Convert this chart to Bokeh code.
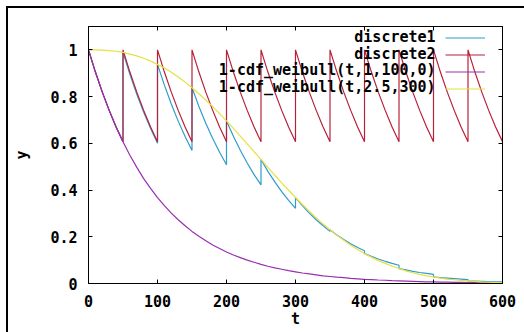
from bokeh.plotting import figure
from bokeh.models import (Range1d, LinearAxis, FixedTicker, Legend, LegendItem, Label,
                          InlineStyleSheet)
from bokeh.embed import file_html
from bokeh.resources import INLINE

# ---------------- data ----------------
seg_starts = [0, 50, 100, 150, 200, 250, 300, 350, 400, 450, 500, 550]
seg_offsets = [0, 10, 20, 30, 40, 50]

discrete1_segments = [
    [1.000, 0.905, 0.819, 0.741, 0.670, 0.607],
    [0.989, 0.895, 0.810, 0.733, 0.663, 0.600],
    [0.938, 0.849, 0.768, 0.695, 0.629, 0.569],
    [0.838, 0.758, 0.686, 0.621, 0.562, 0.508],
    [0.696, 0.630, 0.570, 0.516, 0.466, 0.422],
    [0.531, 0.480, 0.435, 0.393, 0.356, 0.322],
    [0.368, 0.333, 0.301, 0.273, 0.247, 0.223],
    [0.230, 0.208, 0.188, 0.170, 0.154, 0.140],
    [0.128, 0.116, 0.105, 0.095, 0.086, 0.078],
    [0.064, 0.058, 0.052, 0.047, 0.043, 0.039],
    [0.028, 0.025, 0.023, 0.021, 0.019, 0.017],
    [0.011, 0.010, 0.009, 0.008, 0.007, 0.007],
]

discrete2_segments = [
    [1.000, 0.905, 0.819, 0.741, 0.670, 0.607],
    [1.000, 0.905, 0.819, 0.741, 0.670, 0.607],
    [1.000, 0.905, 0.819, 0.741, 0.670, 0.607],
    [1.000, 0.905, 0.819, 0.741, 0.670, 0.607],
    [1.000, 0.905, 0.819, 0.741, 0.670, 0.607],
    [1.000, 0.905, 0.819, 0.741, 0.670, 0.607],
    [1.000, 0.905, 0.819, 0.741, 0.670, 0.607],
    [1.000, 0.905, 0.819, 0.741, 0.670, 0.607],
    [1.000, 0.905, 0.819, 0.741, 0.670, 0.607],
    [1.000, 0.905, 0.819, 0.741, 0.670, 0.607],
    [1.000, 0.905, 0.819, 0.741, 0.670, 0.607],
    [1.000, 0.905, 0.819, 0.741, 0.670, 0.607],
]
discrete2_tail_t = [600]
discrete2_tail_y = [0.80]

curve_t = [0, 10, 20, 30, 40, 50, 60, 70, 80, 90, 100, 110, 120, 130, 140, 150,
           160, 170, 180, 190, 200, 210, 220, 230, 240, 250, 260, 270, 280, 290,
           300, 310, 320, 330, 340, 350, 360, 370, 380, 390, 400, 410, 420, 430,
           440, 450, 460, 470, 480, 490, 500, 510, 520, 530, 540, 550, 560, 570,
           580, 590, 600]

weibull_1_100 = [1.000, 0.905, 0.819, 0.741, 0.670, 0.607, 0.549, 0.497, 0.449, 0.407,
                 0.368, 0.333, 0.301, 0.273, 0.247, 0.223, 0.202, 0.183, 0.165, 0.150,
                 0.135, 0.122, 0.111, 0.100, 0.091, 0.082, 0.074, 0.067, 0.061, 0.055,
                 0.050, 0.045, 0.041, 0.037, 0.033, 0.030, 0.027, 0.025, 0.022, 0.020,
                 0.018, 0.017, 0.015, 0.014, 0.012, 0.011, 0.010, 0.009, 0.008, 0.007,
                 0.007, 0.006, 0.006, 0.005, 0.005, 0.004, 0.004, 0.003, 0.003, 0.003,
                 0.002]

weibull_25_300 = [1.000, 1.000, 0.999, 0.997, 0.994, 0.989, 0.982, 0.974, 0.964, 0.952,
                  0.938, 0.922, 0.904, 0.884, 0.862, 0.838, 0.812, 0.785, 0.757, 0.727,
                  0.696, 0.664, 0.631, 0.598, 0.564, 0.531, 0.497, 0.464, 0.431, 0.399,
                  0.368, 0.338, 0.309, 0.281, 0.255, 0.230, 0.207, 0.185, 0.164, 0.146,
                  0.128, 0.113, 0.098, 0.086, 0.074, 0.064, 0.054, 0.046, 0.039, 0.033,
                  0.028, 0.023, 0.019, 0.016, 0.013, 0.011, 0.009, 0.007, 0.006, 0.004,
                  0.004]

series_names = ["discrete1", "discrete2", "1-cdf_weibull(t,1,100,0)", "1-cdf_weibull(t,2.5,300)"]
series_colors = ["#2e9ccc", "#b8203a", "#9a2eb0", "#e6e040"]

x_ticks = [0, 100, 200, 300, 400, 500, 600]
y_ticks = [0, 0.2, 0.4, 0.6, 0.8, 1.0]


def flatten(starts, offsets, segments):
    ts, ys = [], []
    for s, seg in zip(starts, segments):
        for o, v in zip(offsets, seg):
            ts.append(s + o)
            ys.append(v)
    return ts, ys


d1_t, d1_y = flatten(seg_starts, seg_offsets, discrete1_segments)
d2_t, d2_y = flatten(seg_starts, seg_offsets, discrete2_segments)
d2_t = d2_t + discrete2_tail_t
d2_y = d2_y + discrete2_tail_y

# ---------------- figure ----------------
FONT = "DejaVu Sans Mono"

p = figure(width=524, height=332, output_backend="svg", toolbar_location=None,
           x_range=Range1d(0, 600), y_range=Range1d(0, 1.1),
           min_border_left=88, min_border_right=22, min_border_top=26, min_border_bottom=49)
# outer screenshot frame: only its top and left edges are visible in the reference
p.stylesheets = [InlineStyleSheet(css=(
    ":host::after { content: ''; position: absolute; left: 6px; top: 6px; right: 0; bottom: 0; "
    "border-left: 2px solid #000; border-top: 2px solid #000; pointer-events: none; z-index: 100; }"
))]
p.background_fill_color = "white"
p.border_fill_color = "white"
p.outline_line_color = "black"
p.outline_line_width = 1
p.xgrid.visible = False
p.ygrid.visible = False

for ax in (p.xaxis[0], p.yaxis[0]):
    ax.major_tick_in = 4
    ax.major_tick_out = 0
    ax.minor_tick_line_color = None
    ax.axis_line_color = "black"
    ax.major_tick_line_color = "black"
    ax.major_label_text_font = FONT
    ax.major_label_text_font_style = "bold"
    ax.major_label_text_font_size = "15px"
    ax.major_label_text_color = "black"
    ax.axis_label_text_font = FONT
    ax.axis_label_text_font_style = "bold"
    ax.axis_label_text_font_size = "15px"
    ax.axis_label_text_color = "black"

p.xaxis[0].ticker = FixedTicker(ticks=x_ticks)
p.yaxis[0].ticker = FixedTicker(ticks=y_ticks)
p.xaxis[0].axis_label = "t"
p.yaxis[0].axis_label = "y"
p.xaxis[0].major_label_standoff = 11
p.yaxis[0].major_label_standoff = 11
p.xaxis[0].axis_label_standoff = 0
p.yaxis[0].axis_label_standoff = 16

# mirror ticks on top and right
top_ax = LinearAxis(ticker=FixedTicker(ticks=x_ticks),
                    major_label_overrides={t: "" for t in x_ticks})
right_ax = LinearAxis(ticker=FixedTicker(ticks=y_ticks),
                      major_label_overrides={t: "" for t in y_ticks})
for ax in (top_ax, right_ax):
    ax.major_tick_in = 4
    ax.major_tick_out = 0
    ax.minor_tick_line_color = None
    ax.major_label_standoff = 0
    ax.major_label_text_font_size = "1px"
    ax.axis_line_color = "black"
p.add_layout(top_ax, "above")
p.add_layout(right_ax, "right")

r1 = p.line(d1_t, d1_y, line_color=series_colors[0], line_width=1.2)
r2 = p.line(d2_t, d2_y, line_color=series_colors[1], line_width=1.2)
r3 = p.line(curve_t, weibull_1_100, line_color=series_colors[2], line_width=1.2)
r4 = p.line(curve_t, weibull_25_300, line_color=series_colors[3], line_width=1.2)

legend = Legend(items=[LegendItem(label=" ", renderers=[r]) for r in (r1, r2, r3, r4)],
                location=(357, 186), margin=0, padding=0, spacing=0,
                glyph_width=40, glyph_height=17, label_standoff=0, label_width=0,
                label_text_font_size="1px", border_line_alpha=0,
                background_fill_alpha=0)
p.add_layout(legend)

legend_row_y = [1.053, 0.982, 0.912, 0.839]
for name, yy in zip(series_names, legend_row_y):
    p.add_layout(Label(x=503, y=yy, text=name, text_align="right", text_baseline="middle",
                       text_font=FONT, text_font_style="bold", text_font_size="15px",
                       text_color="black"))

open("out.html", "w").write(file_html(p, INLINE))
